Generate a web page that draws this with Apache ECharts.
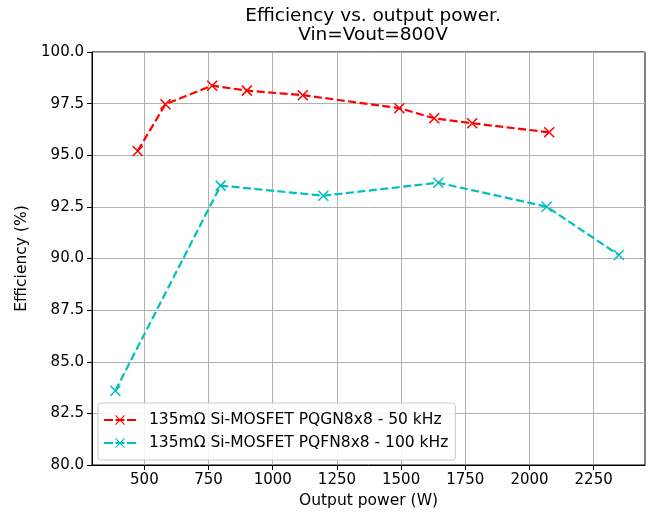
<!DOCTYPE html>
<html>
<head>
<meta charset="utf-8">
<script src="https://cdn.jsdelivr.net/npm/echarts@6/dist/echarts.min.js"></script>
<style>html,body{margin:0;padding:0;background:#fff}#c{width:654px;height:515px}</style>
</head>
<body>
<div id="c"></div>
<script>
var titleLines = ['Efficiency vs. output power.', 'Vin=Vout=800V'];
var xAxisName = 'Output power (W)';
var yAxisName = 'Efficiency (%)';
var xTicks = [500, 750, 1000, 1250, 1500, 1750, 2000, 2250];
var yTicks = [80, 82.5, 85, 87.5, 90, 92.5, 95, 97.5, 100];

var redName = '135mΩ Si-MOSFET PQGN8x8 - 50 kHz';
var redX = [474, 582, 764, 899, 1117, 1493, 1629, 1777, 2077];
var redY = [95.21, 97.47, 98.37, 98.13, 97.91, 97.28, 96.79, 96.55, 96.11];

var cyanName = '135mΩ Si-MOSFET PQFN8x8 - 100 kHz';
var cyanX = [387, 797, 1197, 1645, 2067, 2348];
var cyanY = [83.60, 93.53, 93.04, 93.67, 92.51, 90.17];

var FONT = 'DejaVu Sans';
var xMark = 'path://M0,0L10,10M0,10L10,0';
var legendIcon = 'path://M0,4.0h9v2h-9zM11.5,4.0h9v2h-9zM23,4.0h9v2h-9z' +
  'M11,0.75L11.75,0L21,9.25L20.25,10zM11,9.25L20.25,0L21,0.75L11.75,10z';

function pairs(xs, ys) { return xs.map(function (x, i) { return [x, ys[i]]; }); }

function mkSeries(name, color, xs, ys) {
  return {
    name: name, type: 'line', data: pairs(xs, ys),
    symbol: xMark, symbolSize: 10, symbolKeepAspect: true,
    lineStyle: { color: color, width: 2.2, type: [8, 3.5] },
    itemStyle: { color: color, borderColor: color, borderWidth: 1.5 },
    emphasis: { disabled: true }, animation: false
  };
}

var chart = echarts.init(document.getElementById('c'), null, { renderer: 'canvas' });
chart.setOption({
  backgroundColor: '#ffffff',
  animation: false,
  title: {
    text: titleLines.join('\n'),
    left: 368, top: 2, textAlign: 'center',
    textStyle: { fontFamily: FONT, fontSize: 18.5, fontWeight: 'normal', color: '#000', lineHeight: 19 }
  },
  grid: { left: 92, right: 9, top: 52, bottom: 50, show: true, borderColor: '#000', borderWidth: 1, backgroundColor: 'transparent' },
  legend: {
    orient: 'vertical', left: 98, top: 403,
    padding: [8, 7, 8, 6], itemGap: 5, itemWidth: 32, itemHeight: 10, itemTextGap: 13,
    backgroundColor: 'rgba(255,255,255,0.85)', borderColor: '#cccccc', borderWidth: 1, borderRadius: 3,
    textStyle: { fontFamily: FONT, fontSize: 15.5, color: '#000', lineHeight: 18, padding: [0, 0, 0, 8] },
    itemStyle: { borderWidth: 0 },
    data: [
      { name: redName, icon: legendIcon },
      { name: cyanName, icon: legendIcon }
    ]
  },
  xAxis: {
    type: 'value', min: 296, max: 2450,
    name: xAxisName, nameLocation: 'middle', nameGap: 24,
    nameTextStyle: { fontFamily: FONT, fontSize: 15.5, color: '#000' },
    axisLine: { show: true, lineStyle: { color: '#000', width: 1 } },
    axisTick: { show: true, inside: false, length: 5, lineStyle: { color: '#000' }, customValues: xTicks },
    axisLabel: { fontFamily: FONT, fontSize: 15, color: '#000', margin: 8, customValues: xTicks,
      formatter: function (v) { return String(v); } },
    splitLine: { show: true, lineStyle: { color: '#b0b0b0', width: 1 } }
  },
  yAxis: {
    type: 'value', min: 80, max: 100, interval: 2.5,
    name: yAxisName, nameLocation: 'middle', nameGap: 60, nameRotate: 90,
    nameTextStyle: { fontFamily: FONT, fontSize: 15.5, color: '#000' },
    axisLine: { show: true, lineStyle: { color: '#000', width: 1 } },
    axisTick: { show: true, inside: false, length: 5, lineStyle: { color: '#000' } },
    axisLabel: { fontFamily: FONT, fontSize: 15, color: '#000', margin: 8,
      formatter: function (v) { return v.toFixed(1); } },
    splitLine: { show: true, lineStyle: { color: '#b0b0b0', width: 1 } }
  },
  series: [
    mkSeries(redName, '#ff0000', redX, redY),
    mkSeries(cyanName, '#00bfbf', cyanX, cyanY)
  ]
});
</script>
</body>
</html>
